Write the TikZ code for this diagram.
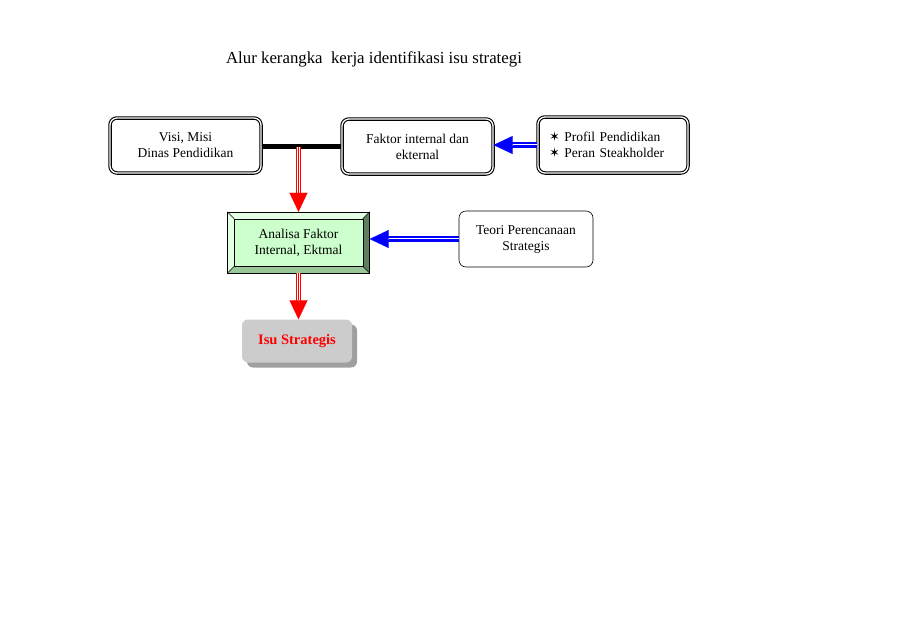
\documentclass[tikz,border=0pt]{standalone}
\usepackage{fontspec}
\setmainfont{Liberation Serif}
\newfontfamily\symfont{DejaVu Sans}
\usetikzlibrary{arrows.meta,positioning,shadows,backgrounds}
\definecolor{facegreen}{HTML}{CCFFCC}
\definecolor{litegreen}{HTML}{E4FFE4}
\definecolor{midgreen}{HTML}{99C799}
\definecolor{darkgreen}{HTML}{5F7F5F}
\newcommand{\bstar}{{\symfont\fontsize{13}{16}\selectfont ✶}\ }

\begin{document}
\begin{tikzpicture}[x=1pt,y=-1pt,font=\fontsize{13.5}{16}\selectfont,
box/.style={align=center,inner sep=2pt},
dbox/.style={box,draw,rounded corners=7pt,line width=1.1pt,double,double distance=1.3pt},
sbox/.style={box,draw,rounded corners=7pt,semithick},
redshaft/.style={draw=red,line width=1.4pt,double=white,double distance=2.4pt,shorten >=17pt},
blueshaft/.style={draw=blue,line width=1.6pt,double=white,double distance=2pt,shorten >=17pt},
redtip/.style={red,line width=0.05pt,-{Triangle[length=19pt,width=18pt]}},
bluetip/.style={blue,line width=0.05pt,-{Triangle[length=19pt,width=18pt]}}]
\useasboundingbox (0,0) rectangle (905,630);
\node[font=\fontsize{16.8}{19}\selectfont] (title) at (374,59) {Alur kerangka\ \ kerja identifikasi isu strategi};
\node[dbox,minimum width=151,minimum height=55] (visi) at (185.5,145.5) {Visi, Misi\\Dinas Pendidikan};
\node[dbox,minimum width=151,minimum height=55] (faktor) at (417.5,146.5) {Faktor internal\ dan\\ekternal};
\node[dbox,minimum width=150,minimum height=56,align=left,text width=128] (profil) at (613,145) {\bstar Profil Pendidikan\\\bstar Peran Steakholder};
\node[box,draw,minimum width=142,minimum height=61] (analisa) at (298.5,242.5) {Analisa Faktor\\Internal, Ektmal};
\node[sbox,minimum width=134,minimum height=56] (teori) at (526,239) {Teori Perencanaan\\Strategis};
\node[box,fill=gray!40,rounded corners=6pt,minimum width=110,minimum height=43,text=red,font=\fontsize{14.5}{16}\selectfont\bfseries,
  drop shadow={shadow xshift=5pt,shadow yshift=-5pt,fill=gray!75,opacity=1}] (isu) at (297,341) {Isu Strategis};
\coordinate (jn) at (298.5,146.5);
% bevel frame
\begin{scope}[on background layer]
\coordinate (inw) at ([shift={(7,7)}]analisa.north west);
\coordinate (ine) at ([shift={(-7,7)}]analisa.north east);
\coordinate (isw) at ([shift={(7,-7)}]analisa.south west);
\coordinate (ise) at ([shift={(-7,-7)}]analisa.south east);
\fill[litegreen] (analisa.north west) -- (analisa.north east) -- (ine) -- (inw) -- (isw) -- (analisa.south west) -- cycle;
\fill[darkgreen] (analisa.north east) -- (ine) -- (ise) -- (analisa.south east) -- cycle;
\fill[midgreen] (analisa.south west) -- (isw) -- (ise) -- (analisa.south east) -- cycle;
\draw[fill=facegreen] (inw) rectangle (ise);
\draw (analisa.north west) -- (inw) (analisa.north east) -- (ine)
  (analisa.south west) -- (isw) (analisa.south east) -- (ise);
\end{scope}
% connectors
\draw[line width=5pt] (visi.east |- jn) -- (faktor.west |- jn);
\draw[redshaft] (jn) -- (jn |- analisa.north);
\draw[redtip] (jn) -- (jn |- analisa.north);
\draw[blueshaft] (profil.west) -- (profil.west -| faktor.east);
\draw[bluetip] (profil.west) -- (profil.west -| faktor.east);
\draw[blueshaft] (teori.west) -- (teori.west -| analisa.east);
\draw[bluetip] (teori.west) -- (teori.west -| analisa.east);
\draw[redshaft] (analisa.south) -- (analisa.south |- isu.north);
\draw[redtip] (analisa.south) -- (analisa.south |- isu.north);
\end{tikzpicture}
\end{document}
